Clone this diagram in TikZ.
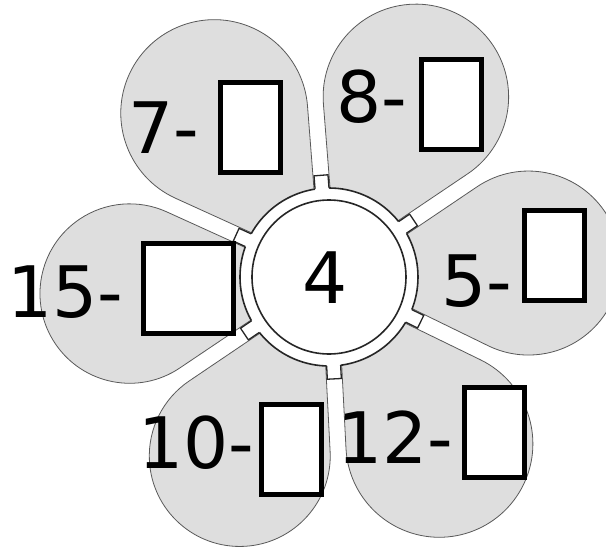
\documentclass[tikz,border=0pt]{standalone}
\usepackage{fontspec}
\newfontfamily\flowerfont{DejaVu Sans}
\usetikzlibrary{calc}

\begin{document}
\begin{tikzpicture}[x=1pt,y=1pt,
    petal/.style={fill=black!13,draw=black!65,line width=0.8pt},
    ringline/.style={draw=black!85,line width=1.6pt},
    numlabel/.style={inner sep=0pt,font=\flowerfont\fontsize{71}{71}\selectfont},
    answerbox/.style={draw=black,fill=white,line width=5pt,inner sep=0pt,
      minimum width=60pt,minimum height=90pt}]
  \useasboundingbox[fill=white] (-329,-270) rectangle (277,277);
  % six petals, each a tear drop with its tip at the centre
  \foreach \ang/\half in {64.25/30.25,4/30,-56.5/30.5,-116.5/29.5,184.75/29.25,125/30.5}{
    \pgfmathsetmacro\rad{200*sin(\half)-8}
    \begin{scope}[rotate=\ang]
      \filldraw[petal] (16,0) -- ($(200,0)+(90+\half:\rad)$)
        arc[start angle=90+\half,end angle=-90-\half,radius=\rad pt] -- cycle;
    \end{scope}
  }
  % the ring round the centre
  \draw[ringline,fill=white] (0,0) circle (89pt);
  \draw[ringline] (0,0) circle (77pt);
  \foreach \gap in {94.5,34,-26,-87,-146,155.5}{
    \begin{scope}[rotate=\gap]
      \fill[white] (84,-7) rectangle (102,7);
      \draw[ringline,line width=1.3pt] (88.7,-7) -- (102,-7) -- (102,7) -- (88.7,7);
    \end{scope}
  }
  \node[numlabel] (centre) at (-3.5,-1) {4};
  \node[numlabel] (l7) at (-165,149) {7-};
  \node[numlabel] (l8) at (42.5,180) {8-};
  \node[numlabel] (l5) at (147.5,-4) {5-};
  \node[numlabel] (l15) at (-264,-15) {15-};
  \node[numlabel] (l10) at (-133,-166) {10-};
  \node[numlabel] (l12) at (66,-160) {12-};
  \node[answerbox] (b7) at (-78,150) {};
  \node[answerbox] (b8) at (123,173) {};
  \node[answerbox] (b5) at (226,22) {};
  \node[answerbox,minimum width=90pt] (b15) at (-140,-11) {};
  \node[answerbox] (b10) at (-37,-172.5) {};
  \node[answerbox] (b12) at (166,-155) {};
\end{tikzpicture}
\end{document}
